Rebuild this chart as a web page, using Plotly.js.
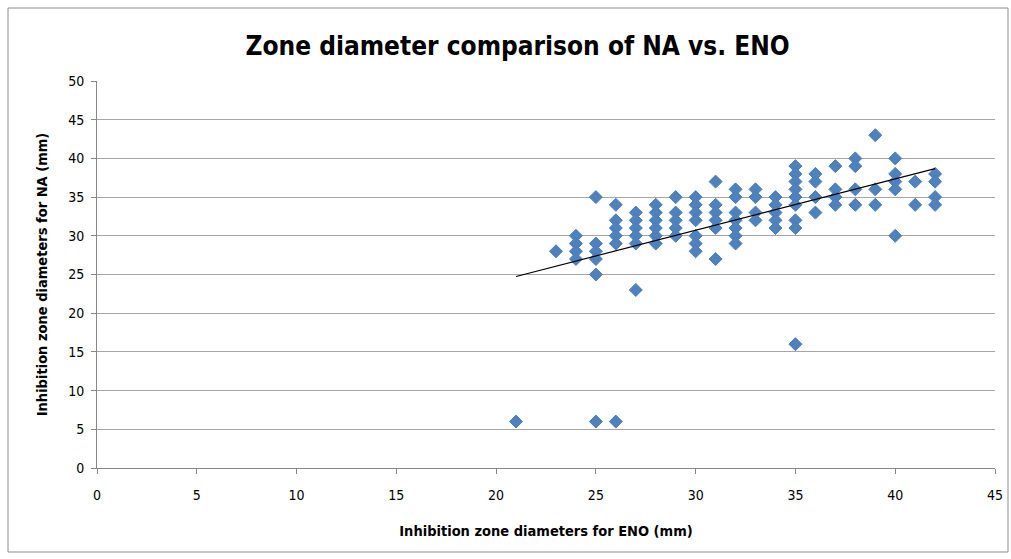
<!DOCTYPE html>
<html>
<head>
<meta charset="utf-8">
<script src="https://cdn.plot.ly/plotly-3.0.1.min.js"></script>
<style>
html,body{margin:0;padding:0;background:#fff;}
#chart{width:1011px;height:559px;}
</style>
</head>
<body>
<div id="chart"></div>
<script>
// Inhibition zone diameters (mm): ENO (x) vs NA (y), one entry per isolate
const eno = [
  21,
  23,
  24,24,24,24,
  25,25,25,25,25,25,
  26,26,26,26,26,26,
  27,27,27,27,27,27,
  28,28,28,28,28,28,
  29,29,29,29,29,
  30,30,30,30,30,30,30,
  31,31,31,31,31,31,
  32,32,32,32,32,32,32,
  33,33,33,33,
  34,34,34,34,34,
  35,35,35,35,35,35,35,35,35,
  36,36,36,36,
  37,37,37,37,
  38,38,38,38,
  39,39,39,
  40,40,40,40,40,
  41,41,
  42,42,42,42
];
const na = [
  6,
  28,
  30,29,28,27,
  35,29,28,27,25,6,
  34,32,31,30,29,6,
  33,32,31,30,29,23,
  34,33,32,31,30,29,
  35,33,32,31,30,
  35,34,33,32,30,29,28,
  37,34,33,32,31,27,
  36,35,33,32,31,30,29,
  36,35,33,32,
  35,34,33,32,31,
  39,38,37,36,35,34,32,31,16,
  38,37,35,33,
  39,36,35,34,
  40,39,36,34,
  43,36,34,
  40,38,37,36,30,
  37,34,
  38,37,35,34
];
const xTicks = [0,5,10,15,20,25,30,35,40,45];
const yTicks = [0,5,10,15,20,25,30,35,40,45,50];

const chartTitle = 'Zone diameter comparison of NA vs. ENO';
const xTitle = 'Inhibition zone diameters for ENO (mm)';
const yTitle = 'Inhibition zone diameters for NA (mm)';

// linear least-squares trendline
const n = eno.length;
let sx=0, sy=0, sxx=0, sxy=0;
for (let i=0;i<n;i++){ sx+=eno[i]; sy+=na[i]; sxx+=eno[i]*eno[i]; sxy+=eno[i]*na[i]; }
const slope = (n*sxy - sx*sy)/(n*sxx - sx*sx);
const intercept = (sy - slope*sx)/n;
const xmin = Math.min(...eno), xmax = Math.max(...eno);
const trendX = [xmin, xmax];
const trendY = trendX.map(v => intercept + slope*v);

const font = "'Liberation Sans Narrow', 'Arial Narrow', 'DejaVu Sans Condensed', sans-serif";

const data = [
  {
    x: eno, y: na, type: 'scatter', mode: 'markers',
    marker: {symbol: 'diamond', size: 10, color: '#4F81BD', line: {color: '#4A7EBB', width: 1}},
    hoverinfo: 'x+y'
  },
  {
    x: trendX, y: trendY, type: 'scatter', mode: 'lines',
    line: {color: '#000000', width: 1.2},
    hoverinfo: 'skip'
  }
];

const layout = {
  width: 1011, height: 559,
  margin: {l: 97, r: 16, t: 81, b: 91},
  paper_bgcolor: '#ffffff', plot_bgcolor: '#ffffff',
  showlegend: false,
  font: {family: font, color: '#000000', size: 14},
  title: {
    text: '<b>' + chartTitle + '</b>',
    font: {family: font, size: 26, color: '#000000'},
    x: 0.512, xanchor: 'center', y: 0.918, yanchor: 'middle'
  },
  xaxis: {
    range: [0, 45], tickvals: xTicks, ticktext: xTicks.map(String),
    showgrid: false, zeroline: false,
    showline: true, linecolor: '#868686', linewidth: 1,
    ticks: 'outside', ticklen: 5, tickcolor: '#868686', tickwidth: 1,
    ticklabelstandoff: 9,
    tickfont: {family: font, size: 14, color: '#000000'},
    title: {text: '<b>' + xTitle + '</b>', font: {family: font, size: 14.5, color: '#000000'}, standoff: 24},
    fixedrange: true
  },
  yaxis: {
    range: [0, 50], tickvals: yTicks, ticktext: yTicks.map(String),
    showgrid: true, gridcolor: '#A6A6A6', gridwidth: 1,
    zeroline: false,
    showline: true, linecolor: '#868686', linewidth: 1,
    ticks: 'outside', ticklen: 5, tickcolor: '#868686', tickwidth: 1,
    ticklabelstandoff: 4,
    tickfont: {family: font, size: 14, color: '#000000'},
    title: {text: '<b>' + yTitle + '</b>', font: {family: font, size: 14.5, color: '#000000'}, standoff: 17},
    fixedrange: true
  },
  shapes: [{
    type: 'rect', xref: 'paper', yref: 'paper',
    x0: -89/898, x1: 1008/898 - 97/898, y0: -84/387, y1: 1 + 73/387,
    line: {color: '#8C8C8C', width: 1}, fillcolor: 'rgba(0,0,0,0)', layer: 'below'
  }]
};

Plotly.newPlot('chart', data, layout, {displayModeBar: false, staticPlot: true});
</script>
</body>
</html>
